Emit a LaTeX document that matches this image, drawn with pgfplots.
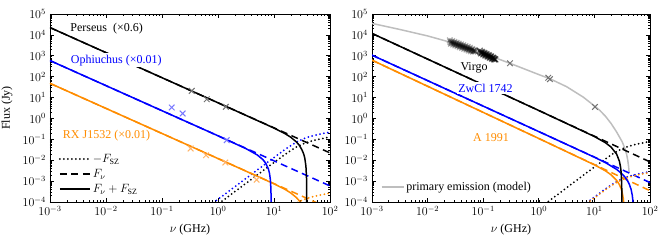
\documentclass[border=0pt,12pt]{standalone}
\usepackage{fontspec}
\setmainfont{Liberation Serif}
\usepackage{pgfplots}
\pgfplotsset{compat=1.18}
\definecolor{cblue}{RGB}{0,0,255}
\definecolor{corange}{RGB}{255,140,0}
\definecolor{cgray}{RGB}{190,190,190}
\definecolor{xgray}{RGB}{115,115,115}
\definecolor{xblue}{RGB}{120,120,255}
\definecolor{xorange}{RGB}{255,180,105}
\tikzset{
 rksol/.style={line width=1.5pt},
 rkdas/.style={line width=1.5pt, dash pattern=on 7pt off 4.5pt},
 rkdot/.style={line width=2pt, dash pattern=on 0pt off 4pt, line cap=round},
}
\pgfplotsset{
 rkcrs/.style={only marks, mark=x, mark size=4pt, mark options={line width=1pt, solid}},
}
\begin{document}
\begin{tikzpicture}
\useasboundingbox (-50pt,-41pt) rectangle (613pt,202pt);
% ---------------- left panel ----------------
\begin{axis}[scale only axis, xmode=log, ymode=log,
  xmin=1e-3, xmax=1e2, ymin=1e-4, ymax=1e5,
  width=280pt, height=188pt, at={(0pt,0pt)},
  xtick={1e-3,1e-2,1e-1,1,10,100},
  ytick={1e-4,1e-3,1e-2,1e-1,1,10,100,1e3,1e4,1e5},
  tick align=inside,
  axis line style={line width=0.9pt},
  major tick style={line width=0.7pt, black},
  minor tick style={line width=0.5pt, black},
  major tick length=4pt, minor tick length=2pt,
  xlabel={$\nu$ (GHz)}, ylabel={Flux (Jy)},
  ylabel style={yshift=2pt},
  legend cell align=left,
  legend style={draw=none, fill=none, row sep=1pt, at={(0.02,0.02)}, anchor=south west},
  legend image code/.code={\draw[#1] (0pt,0pt) -- (30pt,0pt);}]
\addlegendimage{rkdot, black}\addlegendentry{$-F_{\mathrm{SZ}}$}
\addlegendimage{rkdas, black}\addlegendentry{$F_\nu$}
\addlegendimage{rksol, black}\addlegendentry{$F_\nu+F_{\mathrm{SZ}}$}
% Perseus
\addplot[rkdas, black, forget plot] coordinates {(1e-3,2.239e4) (100,0.0224)};
\addplot[rkdot, black, forget plot] coordinates {(0.794,4.94e-5)(1,7.83e-5)(3.162,7.83e-4)(10,7.80e-3)(15.85,0.01914)(19.95,0.02917)(25.12,0.04256)(31.62,0.05794)(39.81,0.07311)(50.12,0.0871)(63.1,0.1005)(79.43,0.1138)(100,0.1282)};
% Ophiuchus
\addplot[rkdas, cblue, forget plot] coordinates {(1e-3,588.8)(100,5.888e-4)};
\addplot[rkdot, cblue, forget plot] coordinates {(0.631,5.37e-5)(1,1.349e-4)(3.162,1.349e-3)(10,0.01343)(15.85,0.03296)(19.95,0.05023)(25.12,0.07328)(31.62,0.0998)(39.81,0.1259)(50.12,0.15)(63.1,0.173)(79.43,0.1959)(100,0.2208)};
% RX J1532
\addplot[rkdas, corange, forget plot] coordinates {(1e-3,47.86)(100,4.79e-5)};
\addplot[rkdot, corange, forget plot] coordinates {(19.95,6.04e-5)(25.12,8.81e-5)(31.62,1.199e-4)(39.81,1.514e-4)(50.12,1.803e-4)(63.1,2.08e-4)(79.43,2.355e-4)(100,2.655e-4)};
% solids
\addplot[rksol, corange, forget plot] coordinates {(1e-3,47.86)(1,0.01202)(10,7.43e-4)(15.85,3.97e-4)(19.95,2.71e-4)(25.12,1.63e-4)(28.18,1.153e-4)(31.62,7.05e-5)(35.48,3.04e-5)};
\addplot[rksol, cblue, forget plot] coordinates {(1e-3,588.8)(1,0.1479)(3.162,0.0358)(5.012,0.01799)(6.310,0.01084)(7.079,0.00736)(7.943,0.00381)(8.318,0.00233)(8.610,0.00119)(8.810,4.27e-4)(8.892,1.15e-4)(8.923,1e-6)};
\addplot[rksol, black, forget plot] coordinates {(1e-3,2.239e4)(1,5.623)(10,0.3467)(15.85,0.1849)(19.95,0.1256)(25.12,0.0750)(28.18,0.0527)(31.62,0.0312)(33.88,0.0200)(35.48,0.0126)(37.15,0.00521)(38.02,0.00162)(38.28,0.00055)(38.41,1e-6)};
% data points
\addplot[rkcrs, xgray, forget plot] coordinates {(0.34,20.9)(0.63,8.32)(1.38,3.59)};
\addplot[rkcrs, xblue, forget plot] coordinates {(0.149,3.35)(0.234,1.73)(1.43,0.0912)};
\addplot[rkcrs, xorange, forget plot] coordinates {(0.325,0.0363)(0.611,0.0174)(1.352,7.76e-3)(4.898,1.17e-3)};
\node[anchor=west, inner sep=1pt] at (axis cs:2.2e-3,2.1e4) {Perseus\ \ (×0.6)};
\node[anchor=west, inner sep=1.5pt, fill=white, text=cblue] at (axis cs:2.2e-3,617) {Ophiuchus (×0.01)};
\node[anchor=west, inner sep=1pt, text=corange] at (axis cs:1.62e-3,0.158) {RX J1532 (×0.01)};
\end{axis}
% ---------------- right panel ----------------
\begin{axis}[scale only axis, xmode=log, ymode=log,
  xmin=1e-3, xmax=1e2, ymin=1e-4, ymax=1e5,
  width=278pt, height=188pt, at={(322pt,0pt)},
  xtick={1e-3,1e-2,1e-1,1,10,100},
  ytick={1e-4,1e-3,1e-2,1e-1,1,10,100,1e3,1e4,1e5},
  tick align=inside,
  axis line style={line width=0.9pt},
  major tick style={line width=0.7pt, black},
  minor tick style={line width=0.5pt, black},
  major tick length=4pt, minor tick length=2pt,
  xlabel={$\nu$ (GHz)},
  legend cell align=left,
  legend style={draw=none, fill=none, at={(0.02,0.03)}, anchor=south west},
  legend image code/.code={\draw[#1] (0pt,0pt) -- (22pt,0pt);}]
\addlegendimage{cgray, line width=1.5pt}\addlegendentry{primary emission (model)}
% primary emission model
\addplot[cgray, line width=1.5pt, forget plot] coordinates {(0.001,3.548e4)(0.003162,1.820e4)(0.01,8913)(0.03162,3802)(0.1,1318)(0.3162,416.9)(1,125.9)(1.585,79.43)(3.162,33.11)(6.31,10.47)(10,3.981)(12.59,2.399)(15.85,1.259)(19.95,0.5754)(25.12,0.2239)(31.62,0.07586)(35.48,0.03548)(38.02,0.01905)(39.81,0.01)(41.21,0.005012)(42.17,0.002512)};
% Virgo
\addplot[rkdas, black, forget plot] coordinates {(1e-3,1.175e4)(100,8.32e-3)};
\addplot[rkdot, black, forget plot] coordinates {(1,4.79e-5)(3.162,4.79e-4)(10,4.76e-3)(15.85,0.0117)(19.95,0.01782)(25.12,0.026)(31.62,0.0354)(39.81,0.0447)(50.12,0.0532)(63.1,0.0614)(79.43,0.0695)(100,0.0783)};
% ZwCl 1742
\addplot[rkdas, cblue, forget plot] coordinates {(1e-3,1072)(100,8.51e-4)};
\addplot[rkdot, cblue, forget plot] coordinates {(5.623,5.5e-5)(10,1.73e-4)(15.85,4.246e-4)(19.95,6.47e-4)(25.12,9.44e-4)(31.62,1.285e-3)(39.81,1.622e-3)(50.12,1.932e-3)(63.1,2.228e-3)(79.43,2.523e-3)(100,2.844e-3)};
% A 1991
\addplot[rkdas, corange, forget plot] coordinates {(1e-3,616.6)(100,3.47e-4)};
\addplot[rkdot, corange, forget plot] coordinates {(5.623,5.01e-5)(10,1.578e-4)(15.85,3.873e-4)(19.95,5.90e-4)(25.12,8.61e-4)(31.62,1.172e-3)(39.81,1.479e-3)(50.12,1.762e-3)(63.1,2.032e-3)(79.43,2.301e-3)(100,2.594e-3)};
% solids
\addplot[rksol, corange, forget plot] coordinates {(1e-3,616.6)(1,0.1096)(10,6.01e-3)(15.85,3.08e-3)(19.95,2.01e-3)(25.12,1.089e-3)(28.18,6.74e-4)(30.2,4.40e-4)(31.62,2.90e-4)(33.11,1.452e-4)(33.88,7.5e-5)(34.71,1e-6)};
\addplot[rksol, cblue, forget plot] coordinates {(1e-3,1072)(1,0.2344)(10,0.01396)(15.85,7.62e-3)(25.12,3.65e-3)(31.62,2.18e-3)(35.48,1.556e-3)(39.81,9.95e-4)(42.66,6.89e-4)(45.71,4.01e-4)(47.86,2.19e-4)(48.98,1.31e-4)(50.12,4.5e-5)(50.70,1e-6)};
\addplot[rksol, black, forget plot] coordinates {(1e-3,1.175e4)(1,2.399)(10,0.1365)(15.85,0.0684)(19.95,0.0426)(25.12,0.0195)(28.18,0.00891)(29.51,0.00479)(30.2,0.00279)(30.9,8.18e-4)(31.05,4.28e-4)(31.20,1e-6)};
% Virgo data
\addplot[rkcrs, black, opacity=0.3, mark options={line width=1.3pt}, forget plot] coordinates {(0.02512,5495)(0.02570,4571)(0.02630,3802)(0.02692,4365)(0.02754,5012)(0.02818,4169)(0.02884,3467)(0.02951,3981)(0.03020,4571)(0.03090,3802)(0.03162,3162)(0.03236,3631)(0.03311,4169)(0.03388,3467)(0.03467,2884)(0.03548,3311)(0.03631,3802)(0.03715,3162)(0.03802,2630)(0.03890,3020)(0.03981,3467)(0.04074,2884)(0.04169,2399)(0.04266,2754)(0.04365,3162)(0.04467,2630)(0.04571,2188)(0.04677,2512)(0.04786,2884)(0.04898,2399)(0.05012,1995)(0.05129,2291)(0.05248,2630)(0.05370,2188)(0.05495,1820)(0.05623,2089)(0.05754,2399)(0.05888,1995)(0.06026,1660)(0.06166,1905)(0.06310,2089)(0.06457,1820)(0.06607,1585)(0.06761,1738)(0.06918,1820)(0.07079,1660)(0.07244,1622)};
\addplot[rkcrs, black, opacity=0.5, mark options={line width=1.3pt}, forget plot] coordinates {(0.08710,1738)(0.08913,1503)(0.09120,1300)(0.09333,1416)(0.09550,1542)(0.09772,1334)(0.1,1153)(0.1023,1256)(0.1047,1368)(0.1072,1183)(0.1096,1023)(0.1122,1114)(0.1148,1213)(0.1175,1050)(0.1202,907.8)(0.1230,988.6)(0.1259,1076)(0.1288,931.1)(0.1318,805.4)(0.1349,877)(0.1380,955)(0.1413,826)(0.1445,714.5)(0.1479,778)(0.1514,809)(0.1549,732.8)(0.1585,663.7)(0.1622,690.2)(0.1660,669.9)};
\addplot[rkcrs, xgray, forget plot] coordinates {(0.303,436.5)(1.479,89.1)(1.585,75.9)(10.23,3.548)};
\node[inner sep=1pt] at (axis cs:0.0684,257) {Virgo};
\node[inner sep=1.5pt, fill=white, text=cblue] at (axis cs:0.11,28.2) {ZwCl 1742};
\node[inner sep=1pt, text=corange] at (axis cs:0.138,0.126) {A 1991};
\end{axis}
\end{tikzpicture}
\end{document}
